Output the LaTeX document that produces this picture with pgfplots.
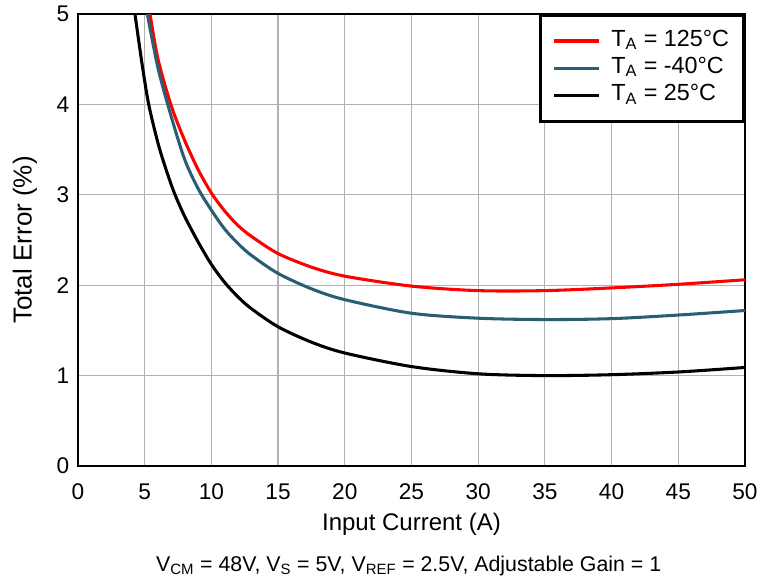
\documentclass[border=0pt]{standalone}
\usepackage{pgfplots}
\pgfplotsset{compat=1.18}
\usepackage{fontspec}
\setmainfont{Liberation Sans}
\definecolor{myred}{RGB}{255,0,0}
\definecolor{myblue}{RGB}{42,94,115}
\begin{document}
\begin{tikzpicture}
\useasboundingbox (-58.5pt,-87.75pt) rectangle (512.25pt,349.5pt);
\begin{axis}[
  at={(0,0)}, anchor=south west,
  scale only axis, width=500.25pt, height=339pt,
  xmin=0, xmax=50, ymin=0, ymax=5,
  xtick={0,5,...,50}, ytick={0,1,2,3,4,5},
  grid=major,
  major grid style={draw=black!30, line width=0.9pt},
  axis line style={line width=2pt},
  tick style={draw=none},
  major tick length=0pt,
  /pgf/number format/assume math mode=true,
  xticklabel style={font=\fontsize{17}{19}\selectfont, yshift=-10pt},
  yticklabel style={font=\fontsize{17}{19}\selectfont, xshift=-3pt},
  xlabel={Input Current (A)},
  ylabel={Total Error (\%)},
  xlabel style={at={(axis description cs:0.5,-0.13)}, anchor=center, font=\fontsize{18}{20}\selectfont},
  ylabel style={at={(axis description cs:-0.0795,0.5)}, anchor=center, font=\fontsize{19.5}{22}\selectfont},
  legend cell align=left,
  legend image code/.code={\draw[#1] (0pt,0pt) -- (34pt,0pt);},
  legend style={at={(rel axis cs:1,1)}, anchor=north east, draw=black, line width=2pt,
    fill=white, inner xsep=9pt, inner ysep=9pt, row sep=0pt, column sep=6pt,
    font=\fontsize{17.5}{20}\selectfont,
    nodes={text height=13pt, text depth=5.5pt, inner ysep=1pt, inner xsep=2pt}},
]
\addplot[myred, line width=2.3pt, smooth] coordinates {
(5.4,5.00) (6,4.50) (7,3.98) (8,3.60) (9,3.28) (10,3.02) (11,2.82) (12,2.66) (13,2.54) (15,2.35) (17.5,2.20) (20,2.10) (25,1.99) (30,1.94) (35,1.94) (40,1.97) (45,2.01) (50,2.06)};
\addlegendentry{T\textsubscript{A} = 125°C}
\addplot[myblue, line width=2.3pt, smooth] coordinates {
(5.2,5.00) (6,4.40) (7,3.86) (8,3.39) (9,3.07) (10,2.83) (11,2.62) (12,2.46) (13,2.33) (15,2.13) (17.5,1.96) (20,1.84) (25,1.69) (30,1.635) (35,1.62) (40,1.63) (45,1.67) (50,1.72)};
\addlegendentry{T\textsubscript{A} = -40°C}
\addplot[black, line width=2.3pt, smooth] coordinates {
(4.27,5.00) (4.8,4.45) (5.3,4.00) (6,3.57) (6.6,3.28) (7.25,3.01) (8,2.76) (9,2.48) (10,2.23) (11,2.03) (12,1.87) (13,1.74) (15,1.54) (17.5,1.37) (20,1.25) (25,1.10) (30,1.02) (35,1.00) (40,1.01) (45,1.04) (50,1.09)};
\addlegendentry{T\textsubscript{A} = 25°C}
\end{axis}
\node[font=\fontsize{16}{19}\selectfont, anchor=center] at (248pt,-75pt) {V\textsubscript{CM} = 48V, V\textsubscript{S} = 5V, V\textsubscript{REF} = 2.5V, Adjustable Gain = 1};
\end{tikzpicture}
\end{document}
